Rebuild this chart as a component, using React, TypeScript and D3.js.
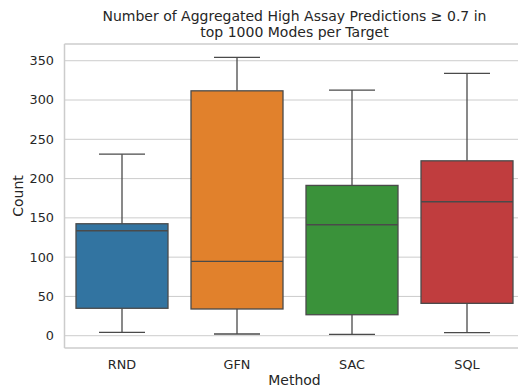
import * as d3 from 'd3';

const methods = ['RND', 'GFN', 'SAC', 'SQL'];
const colors = ['#3274a1', '#e1812c', '#3a923a', '#c03d3e'];
const whiskerLow = [4.3, 2.2, 1.8, 3.8];
const q1 = [34.9, 34.0, 26.7, 41.2];
const medians = [133.6, 94.7, 141.2, 170.5];
const q3 = [142.5, 311.7, 191.3, 222.6];
const whiskerHigh = [231, 354.2, 312.6, 333.8];
const yTicks = [0, 50, 100, 150, 200, 250, 300, 350];

const W = 518;
const H = 387;
const left = 64.5;
const right = 524.5;
const top = 44;
const bottom = 348;
const font = '"DejaVu Sans", sans-serif';
const textColor = '#262626';
const lineColor = '#4a4a4a';
const gridColor = '#cccccc';
const tickSize = 12.8;
const labelSize = 14;

export default function App() {
  const x = d3.scaleBand<string>()
    .domain(methods)
    .range([left, right])
    .paddingInner(0.2)
    .paddingOuter(0.1);
  const y = d3.scaleLinear().domain([-15.65, 371.3]).range([bottom, top]);
  const bw = x.bandwidth();

  return (
    <svg width={W} height={H} style={{ position: 'absolute', left: 0, top: 0, background: '#fff' }}>
      {/* grid */}
      {yTicks.map(t => (
        <line key={t} x1={left} x2={right} y1={y(t)} y2={y(t)} stroke={gridColor} strokeWidth={1} />
      ))}

      {/* boxes */}
      {methods.map((m, i) => {
        const x0 = x(m) || 0;
        const cx = x0 + bw / 2;
        return (
          <g key={m}>
            <line x1={cx} x2={cx} y1={y(q3[i])} y2={y(whiskerHigh[i])} stroke={lineColor} strokeWidth={1.3} />
            <line x1={cx} x2={cx} y1={y(q1[i])} y2={y(whiskerLow[i])} stroke={lineColor} strokeWidth={1.3} />
            <line x1={cx - bw / 4} x2={cx + bw / 4} y1={y(whiskerHigh[i])} y2={y(whiskerHigh[i])} stroke={lineColor} strokeWidth={1.3} />
            <line x1={cx - bw / 4} x2={cx + bw / 4} y1={y(whiskerLow[i])} y2={y(whiskerLow[i])} stroke={lineColor} strokeWidth={1.3} />
            <rect x={x0} y={y(q3[i])} width={bw} height={y(q1[i]) - y(q3[i])}
              fill={colors[i]} stroke={lineColor} strokeWidth={1.3} />
            <line x1={x0} x2={x0 + bw} y1={y(medians[i])} y2={y(medians[i])} stroke={lineColor} strokeWidth={1.3} />
          </g>
        );
      })}

      {/* spines */}
      <line x1={left} x2={left} y1={top} y2={bottom} stroke={gridColor} strokeWidth={1.5} />
      <line x1={left} x2={right} y1={top} y2={top} stroke={gridColor} strokeWidth={1.5} />
      <line x1={left} x2={right} y1={bottom} y2={bottom} stroke={gridColor} strokeWidth={1.5} />
      <line x1={right} x2={right} y1={top} y2={bottom} stroke={gridColor} strokeWidth={1.5} />

      {/* y ticks */}
      {yTicks.map(t => (
        <text key={t} x={54} y={y(t)} dy="0.35em" textAnchor="end" fontFamily={font} fontSize={tickSize} fill={textColor}>{t}</text>
      ))}

      {/* x ticks */}
      {methods.map(m => (
        <text key={m} x={(x(m) || 0) + bw / 2} y={369} textAnchor="middle" fontFamily={font} fontSize={tickSize} fill={textColor}>{m}</text>
      ))}

      <text x={(left + right) / 2} y={385} textAnchor="middle" fontFamily={font} fontSize={labelSize} fill={textColor}>Method</text>
      <text transform={`translate(23,${(top + bottom) / 2}) rotate(-90)`} textAnchor="middle" fontFamily={font} fontSize={labelSize} fill={textColor}>Count</text>

      <text x={(left + right) / 2} y={20.7} textAnchor="middle" fontFamily={font} fontSize={labelSize} fill={textColor}>
        Number of Aggregated High Assay Predictions ≥ 0.7 in
      </text>
      <text x={(left + right) / 2} y={36.5} textAnchor="middle" fontFamily={font} fontSize={labelSize} fill={textColor}>
        top 1000 Modes per Target
      </text>
    </svg>
  );
}
